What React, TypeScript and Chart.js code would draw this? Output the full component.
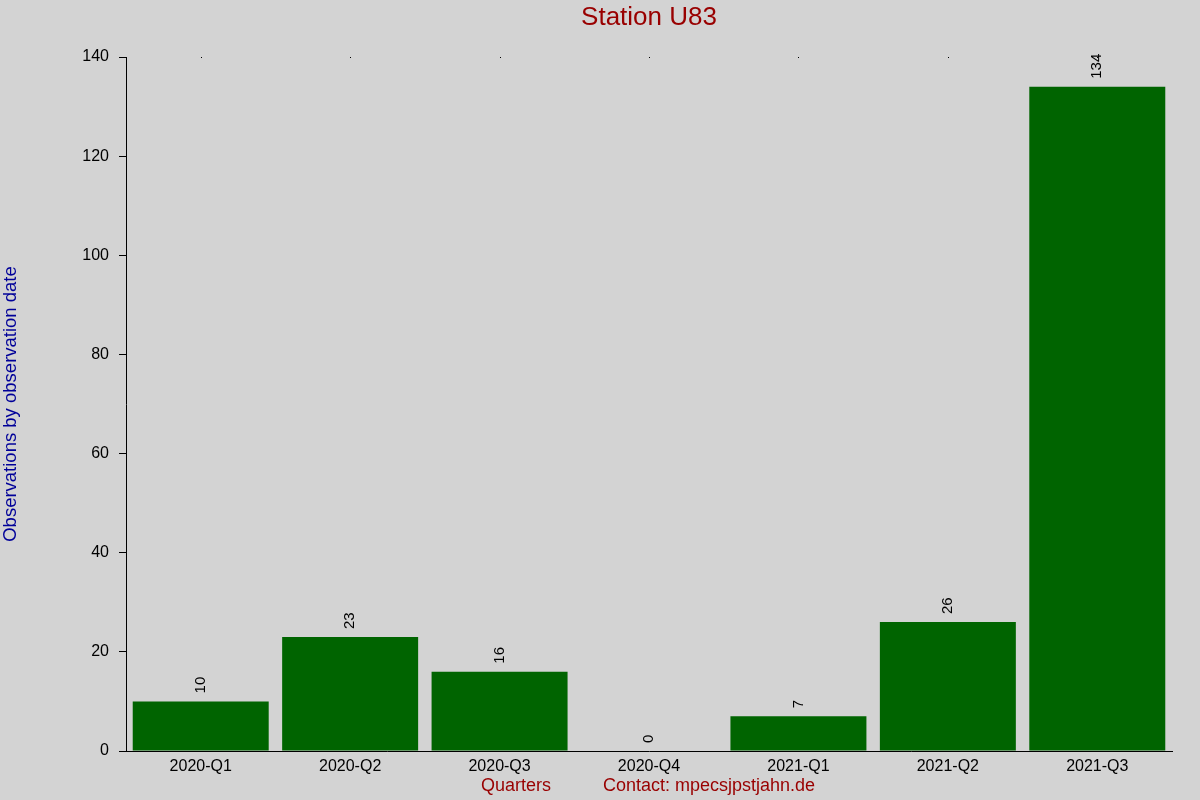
import React, { useEffect, useRef } from "react";
import { Chart, registerables } from "chart.js";

Chart.register(...registerables);

const categories = ["2020-Q1", "2020-Q2", "2020-Q3", "2020-Q4", "2021-Q1", "2021-Q2", "2021-Q3"];
const observations = [10, 23, 16, 0, 7, 26, 134];
const yTicks = [0, 20, 40, 60, 80, 100, 120, 140];

const titleText = "Station U83";
const yTitleText = "Observations by observation date";
const xTitleText = "Quarters";
const contactText = "Contact: mpecsjpstjahn.de";

const FONT = "'Liberation Sans', Arial, sans-serif";
const DARKRED = "#990000";
const DARKBLUE = "#000099";

const overlayPlugin = {
  id: "overlay",
  afterDatasetsDraw(chart: any) {
    const ctx = chart.ctx;
    const area = chart.chartArea;
    const meta = chart.getDatasetMeta(0);
    const xScale = chart.scales.x;
    ctx.save();
    // small dots at the top of the plot area at each category
    ctx.fillStyle = "#000";
    categories.forEach((_, i) => {
      const x = Math.round(xScale.getPixelForValue(i));
      ctx.fillRect(x, Math.round(area.top), 1, 1);
    });
    // value labels
    ctx.font = `15px ${FONT}`;
    ctx.fillStyle = "#000";
    ctx.textAlign = "left";
    ctx.textBaseline = "middle";
    meta.data.forEach((bar: any, i: number) => {
      ctx.save();
      ctx.translate(bar.x, bar.y - 8);
      ctx.rotate(-Math.PI / 2);
      ctx.fillText(String(observations[i]), 0, 0);
      ctx.restore();
    });
    // bottom texts
    ctx.fillStyle = DARKRED;
    ctx.font = `18px ${FONT}`;
    ctx.textBaseline = "middle";
    ctx.textAlign = "center";
    ctx.fillText(xTitleText, 516, 786);
    ctx.textAlign = "left";
    ctx.fillText(contactText, 603, 786);
    ctx.restore();
  },
};

export default function App() {
  const canvasRef = useRef<HTMLCanvasElement | null>(null);

  useEffect(() => {
    if (!canvasRef.current) return;
    const chart = new Chart(canvasRef.current, {
      type: "bar",
      data: {
        labels: categories,
        datasets: [
          {
            data: observations,
            backgroundColor: "#006400",
            borderWidth: 0,
            barPercentage: 0.91,
            categoryPercentage: 1,
          },
        ],
      },
      options: {
        animation: false,
        responsive: false,
        devicePixelRatio: 1,
        layout: { padding: { top: 0, right: 28, bottom: 0, left: 0 } },
        plugins: {
          legend: { display: false },
          tooltip: { enabled: false },
          title: {
            display: true,
            text: titleText,
            color: DARKRED,
            fullSize: false,
            font: { family: FONT, size: 26, weight: "normal", lineHeight: 1.2 },
            padding: { top: 2, bottom: 23.8 },
          },
        },
        scales: {
          x: {
            type: "category",
            offset: true,
            afterFit: (s: any) => {
              s.height = 49;
            },
            grid: { display: false, drawTicks: false, tickLength: 0 },
            border: { display: true, color: "#000", width: 1 },
            ticks: {
              color: "#000",
              padding: 6,
              maxRotation: 0,
              autoSkip: false,
              font: { family: FONT, size: 16, lineHeight: 1.2 },
            },
          },
          y: {
            min: 0,
            max: 140,
            afterFit: (s: any) => {
              s.width = 126;
            },
            afterBuildTicks: (s: any) => {
              s.ticks = yTicks.map((v) => ({ value: v }));
            },
            grid: {
              display: true,
              drawOnChartArea: false,
              drawTicks: true,
              tickLength: 7,
              color: "#000",
            },
            border: { display: true, color: "#000", width: 1 },
            ticks: {
              color: "#000",
              padding: 10,
              font: { family: FONT, size: 16 },
            },
            title: {
              display: true,
              text: yTitleText,
              color: DARKBLUE,
              padding: 0,
              font: { family: FONT, size: 18.5, lineHeight: 1.2 },
            },
          },
        },
      },
      plugins: [overlayPlugin],
    });
    return () => chart.destroy();
  }, []);

  return (
    <div style={{ position: "absolute", left: 0, top: 0, width: 1200, height: 800, background: "#d3d3d3" }}>
      <canvas ref={canvasRef} width={1200} height={800} style={{ display: "block" }} />
    </div>
  );
}
